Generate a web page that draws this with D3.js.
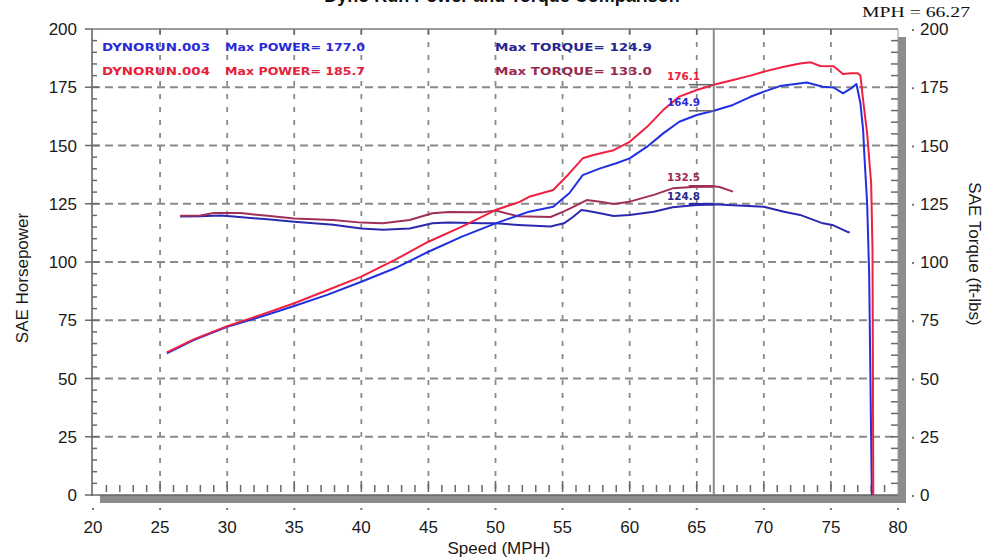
<!DOCTYPE html>
<html><head><meta charset="utf-8">
<script src="https://cdn.jsdelivr.net/npm/d3@7"></script>
<style>html,body{margin:0;padding:0;background:#fff;} svg{display:block;}</style>
</head><body>
<svg id="c" width="1008" height="560"></svg>
<script>
// ---------- data ----------
const speedTicks = [20,25,30,35,40,45,50,55,60,65,70,75,80];
const hpTicks = [0,25,50,75,100,125,150,175,200];
const torqueTicks = [0,25,50,75,100,125,150,175,200];

const power003Speed = [25.5,27.5,30,32.5,35,37.5,40,42.5,45,47.5,50,51.8,52.5,54.3,55.5,56.5,57.8,59,60,61.3,62.5,63.7,65,66.27,67.7,69,70,71.2,72.2,73.2,74.4,75.2,75.9,76.5,76.9,77.2,77.4,77.5,77.7,77.85,78.05];
const power003 =      [60.8,66.5,72.2,76.5,81.1,86,91.5,97.3,104.4,110.9,116.6,120.2,121.6,123.7,129.5,137.3,140.2,142.4,144.5,149.5,155.2,160.2,163.1,164.9,167.4,170.9,173.1,175.5,176.3,177.0,175.2,174.9,172.4,174.5,176.4,168.1,156.7,145.2,125.2,95,0];

const power004Speed = [25.5,27.5,30,32.5,35,37.5,40,42.5,45,47.5,50,51.8,52.5,54.3,55.5,56.5,57.3,58.8,60,61.3,62.5,63.7,65,66.27,67.7,69,70,71.5,72.7,73.5,74.2,75.2,75.9,76.5,77.0,77.2,77.4,77.7,78.0,78.1,78.16];
const power004 =      [61.2,66.8,72.5,77.3,82.3,88,93.7,100.9,108.7,115.2,122.3,125.8,128,130.9,138,144.5,145.9,148,151.6,158,165.2,171,173.8,176.1,178.1,180,181.7,183.8,185.2,185.7,184.1,184,180.7,181,181,180,169.5,155.2,133.8,105,0];

const torque003Speed = [26.5,28,29.5,30.5,33,35,37.9,40,41.6,43.6,45.3,46.5,49,50,51.7,54.1,55.1,55.8,56.4,56.8,57.8,58.8,60,61.8,63.2,65,66.27,67.7,70,71.5,72.7,74.4,75.1,76.2,76.4];
const torque003 =      [119.5,119.6,120,119.5,118.3,117.3,116,114.4,113.8,114.4,116.6,117,116.6,116.6,115.9,115.2,116.6,119.4,122.3,122,120.9,119.7,120.2,121.6,123.5,124.5,124.8,124.4,123.7,121.6,120.2,116.6,115.9,113,112.7];

const torque004Speed = [26.5,28,29,31,33,35,37.9,40,41.6,43.6,45.3,46.5,49,50,51.7,54.1,55.1,55.8,56.8,57.8,58.8,60,61.8,63.2,65,66.27,66.7,67.7];
const torque004 =      [119.8,120,121,121,119.8,118.7,118,116.9,116.6,118,120.9,121.5,121.3,122.1,119.6,119.3,121.7,123.7,126.6,125.9,124.9,125.9,128.8,131.6,132.3,132.5,132.2,130.2];

const cursorMph = 66.27;
const cursorLabels = ["176.1","164.9","132.5","124.8"];
const cursorValues = [176.1,164.9,132.5,124.8];

const legendRuns = ["DYNORUN.003","DYNORUN.004"];
const legendPower = ["Max POWER= 177.0","Max POWER= 185.7"];
const legendTorque = ["Max TORQUE= 124.9","Max TORQUE= 133.0"];

// ---------- styles ----------
const C = {p003:"#2030e0", p004:"#f02040", t003:"#2a2ab0", t004:"#a0305a",
           l003:"#2a2ad8", l004:"#e8203a", lt003:"#26268f", lt004:"#9a2b4f"};

const svg = d3.select("#c");
const x = d3.scaleLinear().domain([20,80]).range([93,898]);
const y = d3.scaleLinear().domain([0,200]).range([495,29]);
const yR = d3.scaleLinear().domain([0,200]).range([495,29]);
const X0 = x(20)-1, X1 = x(80), Y0 = y(200), Y1 = y(0);

// title (clipped at top, as in reference)
svg.append("text").attr("x",502).attr("y",2).attr("text-anchor","middle")
  .attr("font-family","Liberation Sans, Arial").attr("font-weight","bold").attr("font-size",18)
  .attr("fill","#111").text("Dyno Run Power and Torque Comparison");

// shadow + plot
svg.append("rect").attr("x",X0+8).attr("y",Y0+8).attr("width",X1-X0).attr("height",Y1-Y0).attr("fill","#8c8c8c");
svg.append("rect").attr("x",X0).attr("y",Y0).attr("width",X1-X0).attr("height",Y1-Y0).attr("fill","#fff");

// grid
const g = svg.append("g");
g.selectAll("line.vg").data(speedTicks.filter(d=>d>20&&d<80)).join("line")
  .attr("x1",d=>x(d)).attr("x2",d=>x(d)).attr("y1",Y0).attr("y2",Y1)
  .attr("stroke","#8a8a8a").attr("stroke-width",1.8).attr("stroke-dasharray","5,8");
g.selectAll("line.hg").data(hpTicks.filter(d=>d>0&&d<200)).join("line")
  .attr("x1",X0).attr("x2",X1).attr("y1",d=>y(d)).attr("y2",d=>y(d))
  .attr("stroke","#8a8a8a").attr("stroke-width",1.8).attr("stroke-dasharray","8,5");

// borders
svg.append("line").attr("x1",X0).attr("x2",X1).attr("y1",Y0).attr("y2",Y0).attr("stroke","#9a9a9a").attr("stroke-width",2);
svg.append("line").attr("x1",X1).attr("x2",X1).attr("y1",Y0).attr("y2",Y1).attr("stroke","#9a9a9a").attr("stroke-width",1);
svg.append("line").attr("x1",X0).attr("x2",X0).attr("y1",Y0).attr("y2",Y1+1).attr("stroke","#666").attr("stroke-width",1.6);
svg.append("line").attr("x1",X0).attr("x2",X1).attr("y1",Y1).attr("y2",Y1).attr("stroke","#666").attr("stroke-width",1.6);

// ticks
const tk = svg.append("g").attr("stroke","#6a6a6a").attr("stroke-width",1.5);
const minorX = d3.range(21,80,1);
tk.selectAll("line.bx").data(minorX).join("line")
  .attr("x1",d=>x(d)).attr("x2",d=>x(d))
  .attr("y1",d=>d%5===0?Y1-14:Y1-10).attr("y2",Y1-3);
tk.selectAll("line.tx").data(speedTicks.filter(d=>d>20&&d<80)).join("line")
  .attr("x1",d=>x(d)).attr("x2",d=>x(d)).attr("y1",Y0).attr("y2",Y0+6);
const minorY = d3.range(5,200,5);
tk.selectAll("line.ly").data(minorY).join("line")
  .attr("x1",X0).attr("x2",d=>d%25===0?X0+7:X0+5).attr("y1",d=>y(d)).attr("y2",d=>y(d));
tk.selectAll("line.lM").data(hpTicks).join("line")
  .attr("x1",X0-7).attr("x2",X0).attr("y1",d=>y(d)).attr("y2",d=>y(d));
tk.selectAll("line.ry").data(minorY).join("line")
  .attr("x1",X1-7).attr("x2",X1).attr("y1",d=>yR(d)).attr("y2",d=>yR(d));
// dots outside
svg.append("g").selectAll("rect").data(speedTicks).join("rect")
  .attr("x",d=>x(d)-1).attr("y",508).attr("width",2).attr("height",2).attr("fill","#777");
svg.append("g").selectAll("rect").data(torqueTicks).join("rect")
  .attr("x",912).attr("y",d=>yR(d)).attr("width",2).attr("height",2).attr("fill","#777");

// tick labels
const lab = {ff:"Liberation Sans, Arial", fs:17, fill:"#1a1a1a"};
svg.append("g").selectAll("text").data(speedTicks).join("text")
  .attr("x",d=>x(d)).attr("y",533).attr("text-anchor","middle")
  .attr("font-family",lab.ff).attr("font-size",lab.fs).attr("fill",lab.fill).text(d=>d);
svg.append("g").selectAll("text").data(hpTicks).join("text")
  .attr("x",77).attr("y",d=>y(d)+6).attr("text-anchor","end")
  .attr("font-family",lab.ff).attr("font-size",lab.fs).attr("fill",lab.fill).text(d=>d);
svg.append("g").selectAll("text").data(torqueTicks).join("text")
  .attr("x",920).attr("y",d=>yR(d)+6).attr("text-anchor","start")
  .attr("font-family",lab.ff).attr("font-size",lab.fs).attr("fill",lab.fill).text(d=>d);

// axis titles
svg.append("text").attr("transform","translate(28,278) rotate(-90)").attr("text-anchor","middle")
  .attr("font-family",lab.ff).attr("font-size",17).attr("fill",lab.fill).text("SAE Horsepower");
svg.append("text").attr("transform","translate(969,254) rotate(90)").attr("text-anchor","middle")
  .attr("font-family",lab.ff).attr("font-size",17).attr("fill",lab.fill).text("SAE Torque (ft-lbs)");
svg.append("text").attr("x",499).attr("y",554).attr("text-anchor","middle")
  .attr("font-family",lab.ff).attr("font-size",17).attr("fill",lab.fill).text("Speed (MPH)");

// cursor line
svg.append("line").attr("x1",x(cursorMph)).attr("x2",x(cursorMph)).attr("y1",Y0).attr("y2",Y1)
  .attr("stroke","#8a8a8a").attr("stroke-width",2);
svg.append("text").attr("x",862).attr("y",17).attr("textLength",108).attr("lengthAdjust","spacingAndGlyphs")
  .attr("font-family","Liberation Serif, Times New Roman").attr("font-size",14.5).attr("fill","#111")
  .text("MPH = " + cursorMph);

// series
const line = d3.line().x(d=>x(d[0])).y(d=>y(d[1]));
const lineR = d3.line().x(d=>x(d[0])).y(d=>yR(d[1]));
const series = [
  {s:torque003Speed, v:torque003, c:C.t003, r:true},
  {s:torque004Speed, v:torque004, c:C.t004, r:true},
  {s:power003Speed, v:power003, c:C.p003, r:false},
  {s:power004Speed, v:power004, c:C.p004, r:false},
];
series.forEach(se=>{
  const pts = se.s.map((d,i)=>[d,se.v[i]]);
  svg.append("path").attr("d",(se.r?lineR:line)(pts)).attr("fill","none")
    .attr("stroke",se.c).attr("stroke-width",2).attr("stroke-linejoin","round");
});

// cursor markers
const markerColors = ["#666","#666",C.t004,C.t003];
const markerWidths = [1.5,1.5,2.6,2.6];
svg.append("g").selectAll("line").data(cursorValues).join("line")
  .attr("x1",x(cursorMph)-25).attr("x2",x(cursorMph)).attr("y1",d=>y(d)).attr("y2",d=>y(d))
  .attr("stroke",(d,i)=>markerColors[i]).attr("stroke-width",(d,i)=>markerWidths[i]);
const labelY = [80,106,181,200];
const labelColors = [C.l004,C.l003,C.lt004,C.lt003];
svg.append("g").selectAll("text").data(cursorLabels).join("text")
  .attr("x",667).attr("y",(d,i)=>labelY[i]).attr("textLength",33).attr("lengthAdjust","spacingAndGlyphs")
  .attr("font-family","DejaVu Sans").attr("font-weight","bold").attr("font-size",11)
  .attr("fill",(d,i)=>labelColors[i]).text(d=>d);

// legend
const legY = [51,75];
const lf = {ff:"DejaVu Sans", fs:10.5};
svg.append("g").selectAll("text").data(legendRuns).join("text")
  .attr("x",102).attr("y",(d,i)=>legY[i]).attr("textLength",108).attr("lengthAdjust","spacingAndGlyphs")
  .attr("font-family",lf.ff).attr("font-weight","bold").attr("font-size",lf.fs)
  .attr("fill",(d,i)=>i?C.l004:C.l003).text(d=>d);
svg.append("g").selectAll("text").data(legendPower).join("text")
  .attr("x",225).attr("y",(d,i)=>legY[i]).attr("textLength",140).attr("lengthAdjust","spacingAndGlyphs")
  .attr("font-family",lf.ff).attr("font-weight","bold").attr("font-size",lf.fs)
  .attr("fill",(d,i)=>i?C.l004:C.l003).text(d=>d);
svg.append("g").selectAll("text").data(legendTorque).join("text")
  .attr("x",495).attr("y",(d,i)=>legY[i]).attr("textLength",157).attr("lengthAdjust","spacingAndGlyphs")
  .attr("font-family",lf.ff).attr("font-weight","bold").attr("font-size",lf.fs)
  .attr("fill",(d,i)=>i?C.lt004:C.lt003).text(d=>d);
</script>
</body></html>
